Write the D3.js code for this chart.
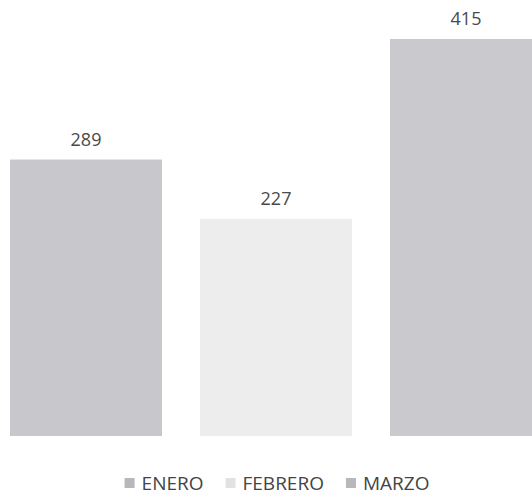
<!DOCTYPE html>
<html>
<head>
<meta charset="utf-8">
<script src="https://cdn.jsdelivr.net/npm/d3@7"></script>
<style>
  body { margin: 0; background: #fff; }
  text { font-family: "Open Sans", "Liberation Sans", sans-serif; }
</style>
</head>
<body>
<svg width="532" height="498"></svg>
<script>
// data
const months = ['ENERO', 'FEBRERO', 'MARZO'];
const values = [289, 227, 415];
const colors = ['#c8c8cc', '#ededed', '#cacace'];

const width = 532;
const height = 498;
const baseline = 436;

const svg = d3.select('svg');

// x: chart is cropped on the right, so the band range runs past the window
const x = d3.scaleBand()
    .domain(months)
    .range([-9, 561])
    .paddingInner(0.2)
    .paddingOuter(0.1);

// y
const y = d3.scaleLinear()
    .domain([0, 415])
    .range([baseline, 39]);

// bars
svg.selectAll('rect.bar')
    .data(months)
    .enter()
    .append('rect')
    .attr('class', 'bar')
    .attr('x', d => x(d))
    .attr('y', (d, i) => y(values[i]))
    .attr('width', x.bandwidth())
    .attr('height', (d, i) => y(0) - y(values[i]))
    .attr('fill', (d, i) => colors[i]);

// value labels
svg.selectAll('text.val')
    .data(months)
    .enter()
    .append('text')
    .attr('class', 'val')
    .attr('x', d => x(d) + x.bandwidth() / 2)
    .attr('y', (d, i) => y(values[i]) - 14)
    .attr('text-anchor', 'middle')
    .attr('font-size', 18)
    .attr('fill', '#4a4a4a')
    .text((d, i) => values[i]);

// legend
const legend = svg.append('g');
let cx = 0;
months.forEach((m, i) => {
    const g = legend.append('g').attr('transform', `translate(${cx},0)`);
    g.append('rect')
        .attr('x', 0)
        .attr('y', -5)
        .attr('width', 10)
        .attr('height', 10)
        .attr('fill', colors[i] === '#ededed' ? '#e2e2e2' : '#b8b8bc');
    const t = g.append('text')
        .attr('x', 17)
        .attr('y', 7)
        .attr('font-size', 19)
        .attr('fill', '#444')
        .text(m);
    cx += 17 + t.node().getComputedTextLength() + 22;
});
cx -= 22;
legend.attr('transform', `translate(${(width - cx) / 2 + 11},483)`);
</script>
</body>
</html>
